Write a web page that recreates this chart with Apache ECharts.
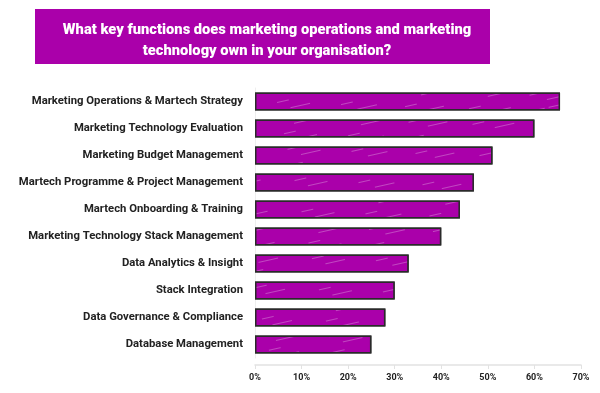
<!DOCTYPE html>
<html><head><meta charset="utf-8">
<script src="https://cdn.jsdelivr.net/npm/echarts@6/dist/echarts.min.js"></script>
<style>html,body{margin:0;padding:0;background:#fff}#c{width:600px;height:393px}</style>
</head><body><div id="c"></div>
<script>
const categories = [
  "Marketing Operations & Martech Strategy",
  "Marketing Technology Evaluation",
  "Marketing Budget Management",
  "Martech Programme & Project Management",
  "Martech Onboarding & Training",
  "Marketing Technology Stack Management",
  "Data Analytics & Insight",
  "Stack Integration",
  "Data Governance & Compliance",
  "Database Management"
];
const values = [65.5, 60, 51, 47, 44, 40, 33, 30, 28, 25];
const titleText = "What key functions does marketing operations and marketing\ntechnology own in your organisation?";

const chart = echarts.init(document.getElementById('c'), null, {renderer: 'canvas'});
chart.setOption({
  backgroundColor: '#fff',
  animation: false,
  graphic: [{
    type: 'rect', left: 35, top: 9, z: 0,
    shape: {width: 455, height: 55},
    style: {fill: '#AA00AA'}
  }],
  title: {
    text: titleText,
    left: 262, top: 15, textAlign: 'center',
    textStyle: {color: '#fff', fontFamily: 'Roboto', fontWeight: 900, fontSize: 14.7, lineHeight: 21}
  },
  grid: {left: 255, right: 19, top: 88, height: 270},
  xAxis: {
    type: 'value', min: 0, max: 70, interval: 10, offset: 7,
    axisLine: {show: true, lineStyle: {color: '#e2e2e2', width: 1.5}},
    axisTick: {show: true, length: 4, lineStyle: {color: '#e2e2e2'}},
    splitLine: {show: false},
    axisLabel: {formatter: '{value}%', color: '#222', fontFamily: 'Roboto', fontWeight: 'bold', fontSize: 9, margin: 8}
  },
  yAxis: {
    type: 'category', data: categories, inverse: true,
    axisLine: {show: true, lineStyle: {color: '#eeeeee'}},
    axisTick: {show: false},
    axisLabel: {color: '#222', fontFamily: 'Roboto', fontWeight: 'bold', fontSize: 11.3, margin: 12}
  },
  series: [{
    type: 'bar', data: values, barWidth: 18,
    itemStyle: {
      color: '#AA00AA', borderColor: '#2a2a2a', borderWidth: 1.5,
      decal: {
        symbol: 'rect', color: 'rgba(255,255,255,0.28)', backgroundColor: '#AA00AA',
        dashArrayX: [[20, 45], [12, 50]], dashArrayY: [1, 7], rotation: -0.22, symbolSize: 1
      }
    }
  }]
});
</script></body></html>
